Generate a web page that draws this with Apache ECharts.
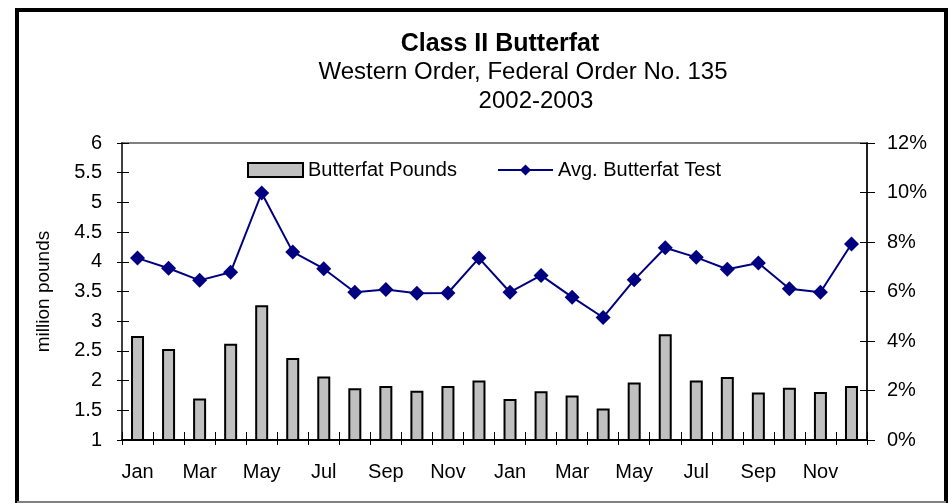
<!DOCTYPE html>
<html>
<head>
<meta charset="utf-8">
<script src="https://cdn.jsdelivr.net/npm/echarts@6/dist/echarts.min.js"></script>
<style>
  html, body { margin: 0; padding: 0; background: #fff; }
  #chart { width: 951px; height: 503px; }
</style>
</head>
<body>
<div id="chart"></div>
<script>
// Chart data
const months = ['Jan', 'Feb', 'Mar', 'Apr', 'May', 'Jun', 'Jul', 'Aug', 'Sep', 'Oct', 'Nov', 'Dec',
                'Jan', 'Feb', 'Mar', 'Apr', 'May', 'Jun', 'Jul', 'Aug', 'Sep', 'Oct', 'Nov', 'Dec'];
// million pounds
const butterfatPounds = [2.75, 2.53, 1.70, 2.62, 3.27, 2.38, 2.07, 1.87, 1.91, 1.83, 1.91, 2.00,
                         1.69, 1.82, 1.75, 1.53, 1.97, 2.78, 2.00, 2.06, 1.80, 1.88, 1.81, 1.91];
// percent
const avgButterfatTest = [7.35, 6.94, 6.45, 6.78, 9.98, 7.60, 6.92, 5.97, 6.08, 5.93, 5.94, 7.35,
                          5.97, 6.65, 5.77, 4.95, 6.47, 7.77, 7.38, 6.90, 7.15, 6.11, 5.97, 7.92];
const titleLines = ['Class II Butterfat', 'Western Order, Federal Order No. 135', '2002-2003'];

const FONT = '"Liberation Sans", Arial, sans-serif';
const chart = echarts.init(document.getElementById('chart'));

// left scale and right scale, used twice each for the crossing tick marks
function leftAxis(inside, main) {
    return {
        type: 'value', position: 'left', min: 1, max: 6, interval: 0.5,
        name: main ? 'million pounds' : '', nameLocation: 'middle', nameGap: 69,
        nameTextStyle: { fontFamily: FONT, fontSize: 19, color: '#000' },
        axisLine: { show: main, lineStyle: { color: '#404040', width: 2 } },
        axisTick: { show: true, inside: inside, length: inside ? 7 : 5, lineStyle: { color: '#000', width: 1 } },
        axisLabel: { show: main, fontFamily: FONT, fontSize: 20, color: '#000', margin: 20 },
        splitLine: { show: false }
    };
}
function rightAxis(inside, main) {
    return {
        type: 'value', position: 'right', min: 0, max: 12, interval: 2,
        axisLine: { show: main, lineStyle: { color: '#000', width: 1.5 } },
        axisTick: { show: true, inside: inside, length: inside ? 7 : 8, lineStyle: { color: '#000', width: 1 } },
        axisLabel: { show: main, fontFamily: FONT, fontSize: 20, color: '#000', margin: 20, formatter: '{value}%' },
        splitLine: { show: false }
    };
}
function bottomAxis(inside, main) {
    return {
        type: 'category', position: 'bottom', data: months, boundaryGap: true,
        axisLine: { show: main, lineStyle: { color: '#000', width: 2 } },
        axisTick: { show: true, inside: inside, interval: 0, length: inside ? 8 : 5, lineStyle: { color: '#000', width: 1 } },
        axisLabel: { show: main, interval: 1, fontFamily: FONT, fontSize: 20, color: '#000', margin: 22 }
    };
}

const option = {
    backgroundColor: '#fff',
    animation: false,
    grid: {
        left: 122, right: 84, top: 143, bottom: 63,
        show: true, borderColor: '#808080', borderWidth: 2, backgroundColor: 'transparent'
    },
    legend: {
        data: [{ name: 'Butterfat Pounds', icon: 'rect' }, 'Avg. Butterfat Test'],
        left: 247, top: 160, padding: 0,
        itemWidth: 55, itemHeight: 14, itemGap: 40,
        textStyle: { fontFamily: FONT, fontSize: 20, color: '#000' }
    },
    xAxis: [bottomAxis(false, true), bottomAxis(true, false)],
    yAxis: [leftAxis(false, true), rightAxis(false, true), leftAxis(true, false), rightAxis(true, false)],
    series: [
        {
            name: 'Butterfat Pounds',
            type: 'bar',
            xAxisIndex: 0, yAxisIndex: 0,
            data: butterfatPounds,
            barWidth: 13,
            itemStyle: { color: '#c0c0c0', borderColor: '#000', borderWidth: 2 }
        },
        {
            name: 'Avg. Butterfat Test',
            type: 'line',
            xAxisIndex: 0, yAxisIndex: 1,
            data: avgButterfatTest,
            symbol: 'diamond',
            symbolSize: 15,
            lineStyle: { color: '#000080', width: 2 },
            itemStyle: { color: '#000080' }
        }
    ],
    graphic: [
        { type: 'text', x: 500, y: 44, style: { text: titleLines[0], align: 'center', verticalAlign: 'middle',
            fontFamily: FONT, fontSize: 25, fontWeight: 'bold', fill: '#000' } },
        { type: 'text', x: 523, y: 72, style: { text: titleLines[1], align: 'center', verticalAlign: 'middle',
            fontFamily: FONT, fontSize: 24, fill: '#000' } },
        { type: 'text', x: 536, y: 101, style: { text: titleLines[2], align: 'center', verticalAlign: 'middle',
            fontFamily: FONT, fontSize: 24, fill: '#000' } },
        // picture frame
        { type: 'polyline', shape: { points: [[17, 503], [17, 10], [946, 10], [946, 503]] },
            style: { stroke: '#000', lineWidth: 4, fill: null } },
        { type: 'line', shape: { x1: 17, y1: 502, x2: 946, y2: 502 },
            style: { stroke: '#808080', lineWidth: 2 } }
    ]
};

chart.setOption(option);
</script>
</body>
</html>
